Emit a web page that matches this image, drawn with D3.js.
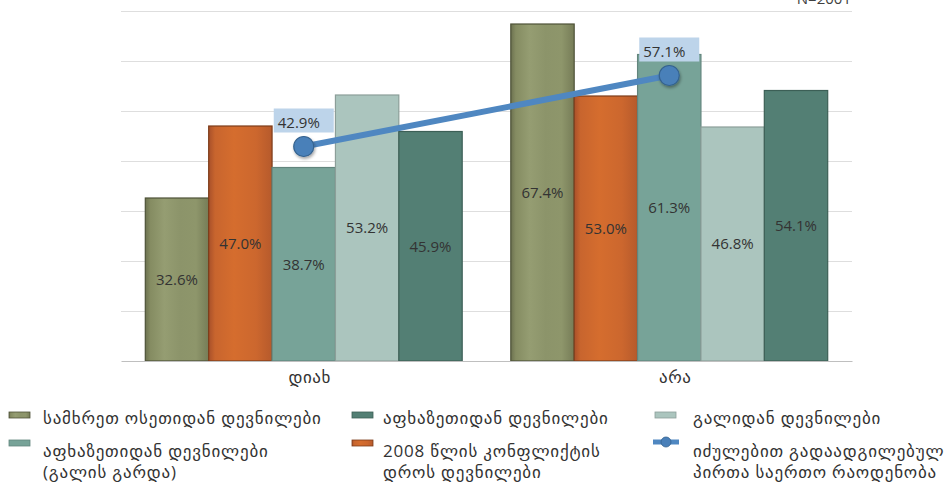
<!DOCTYPE html>
<html>
<head>
<meta charset="utf-8">
<script src="https://cdn.jsdelivr.net/npm/d3@7"></script>
<style>
  html, body { margin: 0; padding: 0; background: #fff; }
  svg { display: block; }
  text { font-family: "Open Sans", "DejaVu Sans", sans-serif; }
</style>
</head>
<body>
<svg id="chart" width="950" height="483"></svg>
<script>
// Answer categories on the x axis
const categories = ["დიახ", "არა"];

// Bar series, in drawing order within each category
const seriesNames = [
  "სამხრეთ ოსეთიდან დევნილები",
  "2008 წლის კონფლიქტის დროს დევნილები",
  "აფხაზეთიდან დევნილები (გალის გარდა)",
  "გალიდან დევნილები",
  "აფხაზეთიდან დევნილები"
];
const valuesYes = [32.6, 47.0, 38.7, 53.2, 45.9];
const valuesNo  = [67.4, 53.0, 61.3, 46.8, 54.1];

// Line series: all internally displaced persons
const lineName = "იძულებით გადაადგილებულ პირთა საერთო რაოდენობა";
const lineValues = [42.9, 57.1];

// Value axis gridlines (labels hidden)
const gridTicks = [0, 10, 20, 30, 40, 50, 60, 70];
const sampleNote = "N=2001";

const seriesColors = ["#8b9363", "#cf6a2e", "#77a398", "#abc5be", "#537f74"];
const seriesStrokes = ["#4e5238", "#7d3c1a", "#62857d", "#8c9e99", "#3c5f56"];

const svg = d3.select("#chart");
const defs = svg.append("defs");

// Textured-looking fills for the olive and orange bars
const gOlive = defs.append("linearGradient").attr("id", "gradOlive").attr("x1", 0).attr("x2", 1).attr("y1", 0).attr("y2", 0);
[["0%", "#6c7150"], ["8%", "#858c62"], ["30%", "#959d72"], ["55%", "#8c946a"], ["80%", "#8e966b"], ["100%", "#767c57"]]
  .forEach(([o, c]) => gOlive.append("stop").attr("offset", o).attr("stop-color", c));
const gOrange = defs.append("linearGradient").attr("id", "gradOrange").attr("x1", 0).attr("x2", 1).attr("y1", 0).attr("y2", 0);
[["0%", "#a8502a"], ["10%", "#c8652e"], ["40%", "#d56d2e"], ["75%", "#cc672e"], ["100%", "#b65a2c"]]
  .forEach(([o, c]) => gOrange.append("stop").attr("offset", o).attr("stop-color", c));
const fills = ["url(#gradOlive)", "url(#gradOrange)", seriesColors[2], seriesColors[3], seriesColors[4]];

const shadow = defs.append("filter").attr("id", "markerShadow").attr("x", "-50%").attr("y", "-50%").attr("width", "200%").attr("height", "200%");
shadow.append("feDropShadow").attr("dx", 1).attr("dy", 2).attr("stdDeviation", 1.5).attr("flood-color", "#000").attr("flood-opacity", 0.35);

// Plot area
const plot = { left: 121, right: 852, top: 11, bottom: 361 };

const x = d3.scaleBand().domain(categories).range([plot.left, plot.right]).padding(0);
const bw = x.bandwidth();
const xInner = d3.scaleBand().domain(d3.range(seriesNames.length))
  .range([bw * 0.0665, bw * 0.9335]).padding(0);
const y = d3.scaleLinear().domain([0, 70]).range([plot.bottom, plot.top]);

// Gridlines
svg.append("g")
  .selectAll("line")
  .data(gridTicks.filter(t => t > 0))
  .join("line")
  .attr("x1", plot.left).attr("x2", plot.right)
  .attr("y1", d => Math.round(y(d)) + 0.5).attr("y2", d => Math.round(y(d)) + 0.5)
  .attr("stroke", "#dedede").attr("stroke-width", 1);

// Bars
const rows = [valuesYes, valuesNo];
const groups = svg.append("g").selectAll("g")
  .data(categories.map((c, i) => ({ cat: c, vals: rows[i] })))
  .join("g")
  .attr("transform", d => `translate(${x(d.cat)},0)`);

groups.selectAll("rect")
  .data(d => d.vals.map((v, i) => ({ v, i })))
  .join("rect")
  .attr("x", d => xInner(d.i))
  .attr("width", xInner.bandwidth())
  .attr("y", d => y(d.v))
  .attr("height", d => y(0) - y(d.v))
  .attr("fill", d => fills[d.i])
  .attr("stroke", d => seriesStrokes[d.i])
  .attr("stroke-width", 1.2);

groups.selectAll("text.val")
  .data(d => d.vals.map((v, i) => ({ v, i })))
  .join("text")
  .attr("class", "val")
  .attr("x", d => xInner(d.i) + xInner.bandwidth() / 2)
  .attr("y", d => (y(d.v) + y(0)) / 2)
  .attr("dy", "0.35em")
  .attr("text-anchor", "middle")
  .attr("font-size", 15)
  .attr("fill", "#333")
  .text(d => d.v.toFixed(1) + "%");

// Category axis
const xAxis = svg.append("g")
  .attr("transform", `translate(0,${plot.bottom})`)
  .call(d3.axisBottom(x).tickSize(0).tickPadding(10));
xAxis.select(".domain").attr("stroke", "#bfbfbf").attr("stroke-width", 1.2);
xAxis.selectAll(".tick text")
  .attr("font-size", 17)
  .attr("fill", "#333")
  .attr("dx", 6)
  .attr("letter-spacing", 0.6)
  .style("font-family", "'DejaVu Sans', sans-serif");

// Line series
const lineGen = d3.line()
  .x((d, i) => x(categories[i]) + bw / 2)
  .y(d => y(d));
svg.append("path")
  .datum(lineValues)
  .attr("d", lineGen)
  .attr("fill", "none")
  .attr("stroke", "#4f87c1")
  .attr("stroke-width", 6);

svg.append("g").selectAll("circle")
  .data(lineValues)
  .join("circle")
  .attr("cx", (d, i) => x(categories[i]) + bw / 2)
  .attr("cy", d => y(d))
  .attr("r", 10)
  .attr("fill", "#4a80b9")
  .attr("stroke", "#34628f")
  .attr("stroke-width", 1.2)
  .attr("filter", "url(#markerShadow)");

// Line value labels in shaded boxes
const lbl = svg.append("g").selectAll("g")
  .data(lineValues)
  .join("g")
  .attr("transform", (d, i) => `translate(${x(categories[i]) + bw / 2 - 30},${y(d) - 38})`);
lbl.append("rect").attr("width", 60).attr("height", 24).attr("fill", "#bdd4ea");
lbl.append("text")
  .attr("x", 4).attr("y", 19)
  .attr("font-size", 15)
  .attr("fill", "#333")
  .text(d => d.toFixed(1) + "%");

// Sample size note
svg.append("text")
  .attr("x", 851).attr("y", 4)
  .attr("text-anchor", "end")
  .attr("font-size", 15)
  .attr("fill", "#404040")
  .text(sampleNote);

// Legend: three columns, two rows
const legendCols = [{ sw: 9, tx: 43 }, { sw: 352, tx: 383 }, { sw: 655, tx: 693 }];
const legendRows = [{ sw: 415, base: 424 }, { sw: 443, base: 457 }];
const legendItems = [
  { s: 0, col: 0, row: 0, lines: ["სამხრეთ ოსეთიდან დევნილები"] },
  { s: 4, col: 1, row: 0, lines: ["აფხაზეთიდან დევნილები"] },
  { s: 3, col: 2, row: 0, lines: ["გალიდან დევნილები"] },
  { s: 2, col: 0, row: 1, lines: ["აფხაზეთიდან დევნილები", "(გალის გარდა)"] },
  { s: 1, col: 1, row: 1, lines: ["2008 წლის კონფლიქტის", "დროს დევნილები"] },
  { s: -1, col: 2, row: 1, lines: ["იძულებით გადაადგილებულ", "პირთა საერთო რაოდენობა"] }
];

const legend = svg.append("g");
legendItems.forEach(item => {
  const c = legendCols[item.col], r = legendRows[item.row];
  if (item.s >= 0) {
    legend.append("rect")
      .attr("x", c.sw).attr("y", r.sw - 3)
      .attr("width", 21).attr("height", 6)
      .attr("fill", fills[item.s])
      .attr("stroke", seriesStrokes[item.s]).attr("stroke-width", 0.8);
  } else {
    legend.append("line")
      .attr("x1", c.sw - 2).attr("x2", c.sw + 24)
      .attr("y1", r.sw - 1).attr("y2", r.sw - 1)
      .attr("stroke", "#4f87c1").attr("stroke-width", 5);
    legend.append("circle")
      .attr("cx", c.sw + 11).attr("cy", r.sw - 1).attr("r", 5)
      .attr("fill", "#4a80b9").attr("stroke", "#34628f").attr("stroke-width", 0.8);
  }
  item.lines.forEach((ln, k) => {
    legend.append("text")
      .attr("x", c.tx).attr("y", r.base + k * 21)
      .attr("font-size", 17)
      .attr("letter-spacing", 0.8)
      .attr("fill", "#333")
      .text(ln);
  });
});
</script>
</body>
</html>
